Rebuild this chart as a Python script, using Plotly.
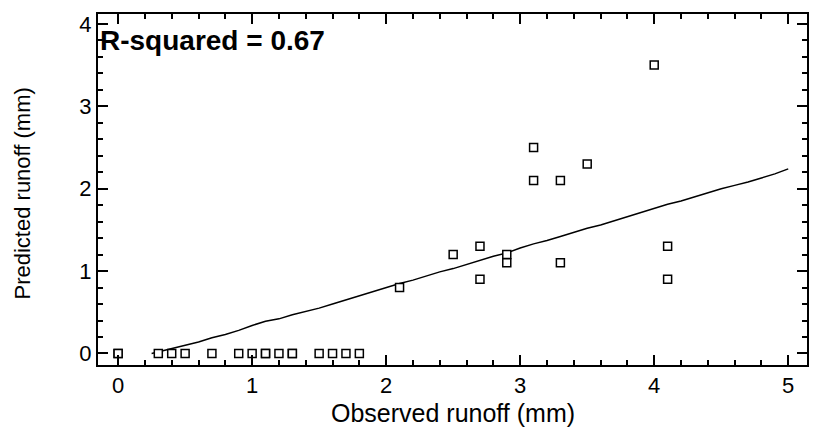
import plotly.graph_objects as go

# Observed vs predicted runoff (mm)
obs = [0.0, 0.0, 0.3, 0.4, 0.5, 0.7, 0.9, 1.0, 1.1, 1.1, 1.2, 1.3, 1.3, 1.5, 1.6, 1.7, 1.8,
       2.1, 2.5, 2.7, 2.7, 2.9, 2.9, 3.1, 3.1, 3.3, 3.3, 3.5, 4.0, 4.1, 4.1]
pred = [0.0, 0.0, 0.0, 0.0, 0.0, 0.0, 0.0, 0.0, 0.0, 0.0, 0.0, 0.0, 0.0, 0.0, 0.0, 0.0, 0.0,
        0.8, 1.2, 1.3, 0.9, 1.2, 1.1, 2.5, 2.1, 2.1, 1.1, 2.3, 3.5, 1.3, 0.9]

# Fitted curve
fit_x = [0.25, 0.3, 0.4, 0.5, 0.6, 0.7, 0.8, 0.9, 1.0, 1.1, 1.2, 1.3, 1.4, 1.5, 1.6, 1.7, 1.8,
         1.9, 2.0, 2.1, 2.2, 2.3, 2.4, 2.5, 2.6, 2.7, 2.8, 2.9, 3.0, 3.1, 3.2, 3.3, 3.4, 3.5,
         3.6, 3.7, 3.8, 3.9, 4.0, 4.1, 4.2, 4.3, 4.4, 4.5, 4.6, 4.7, 4.8, 4.9, 5.0]
fit_y = [0.0, 0.02, 0.06, 0.10, 0.14, 0.19, 0.23, 0.28, 0.34, 0.39, 0.42, 0.47, 0.51, 0.55,
         0.60, 0.65, 0.70, 0.75, 0.80, 0.85, 0.89, 0.94, 0.99, 1.03, 1.08, 1.13, 1.18, 1.22,
         1.28, 1.33, 1.37, 1.42, 1.47, 1.52, 1.56, 1.61, 1.66, 1.71, 1.76, 1.81, 1.85, 1.90,
         1.95, 2.00, 2.04, 2.08, 2.13, 2.18, 2.24]

x_ticks = [0, 1, 2, 3, 4, 5]
y_ticks = [0, 1, 2, 3, 4]
r2_text = "R-squared = 0.67"
x_title = "Observed runoff (mm)"
y_title = "Predicted runoff (mm)"

FONT = "Liberation Sans, Arial, sans-serif"

fig = go.Figure()
fig.add_trace(go.Scatter(x=fit_x, y=fit_y, mode="lines",
                         line=dict(color="black", width=1.5), showlegend=False,
                         hoverinfo="skip"))
fig.add_trace(go.Scatter(x=obs, y=pred, mode="markers",
                         marker=dict(symbol="square", size=8, color="white",
                                     line=dict(color="black", width=1.5)),
                         showlegend=False))

axis_common = dict(showgrid=False, zeroline=False, showline=True, linecolor="black",
                   linewidth=2, mirror="allticks", ticks="inside", ticklen=10,
                   tickwidth=2, tickcolor="black",
                   tickfont=dict(family=FONT, size=22, color="black"),
                   minor=dict(ticks="inside", ticklen=5, tickwidth=2, tickcolor="black",
                              dtick=0.2, showgrid=False))

fig.update_xaxes(range=[-0.15, 5.14], tickvals=x_ticks, **axis_common)
fig.update_yaxes(range=[-0.14, 4.12], tickvals=y_ticks, **axis_common)

# axis titles
fig.add_annotation(x=0.5, y=0, xref="paper", yref="paper", xanchor="center",
                   yanchor="top", yshift=-32, showarrow=False, text=x_title,
                   font=dict(family=FONT, size=25, color="black"))
fig.add_annotation(x=0, y=0.5, xref="paper", yref="paper", xanchor="center",
                   yanchor="middle", xshift=-76, yshift=-4, showarrow=False, text=y_title,
                   textangle=-90, font=dict(family=FONT, size=22, color="black"))

fig.add_annotation(x=0, y=1, xref="paper", yref="paper", xanchor="left", yanchor="top",
                   xshift=0, yshift=-9, showarrow=False,
                   text="<b>" + r2_text + "</b>",
                   font=dict(family=FONT, size=28, color="black"))

fig.update_layout(width=833, height=434,
                  margin=dict(l=98, r=26, t=14, b=69),
                  plot_bgcolor="white", paper_bgcolor="white")

fig.write_html("out.html")
